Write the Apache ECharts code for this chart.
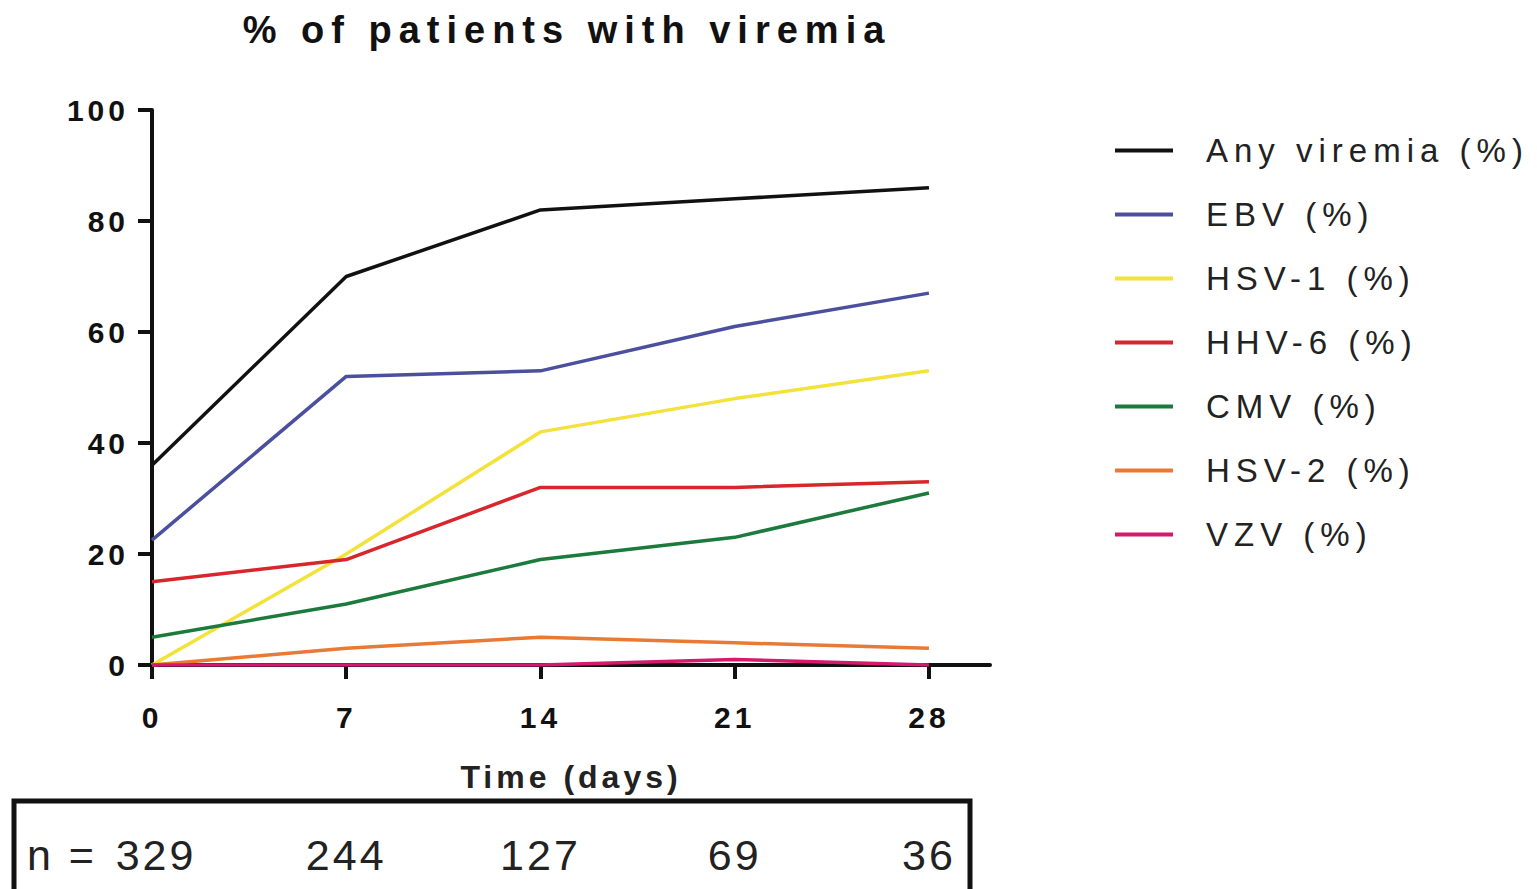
<!DOCTYPE html>
<html><head><meta charset="utf-8">
<script src="https://cdn.jsdelivr.net/npm/echarts@6/dist/echarts.min.js"></script>
<style>
html,body{margin:0;padding:0;background:#fff;}
#chart{width:1537px;height:889px;}
#chart text[style*="38px"]{letter-spacing:7px;}
#chart text[style*="33px"]{letter-spacing:6px;}
#chart text[style*="30px"]{letter-spacing:4px;}
#chart text[style*="32px"]{letter-spacing:4px;}
#chart text[style*="43px"]{letter-spacing:3px;}
</style>
</head><body>
<div id="chart"></div>
<script>
const titleText = '% of patients with viremia';
const xAxisName = 'Time (days)';
const days = [0, 7, 14, 21, 28];
const yTicks = [0, 20, 40, 60, 80, 100];
const seriesNames = ['Any viremia (%)', 'EBV (%)', 'HSV-1 (%)', 'HHV-6 (%)', 'CMV (%)', 'HSV-2 (%)', 'VZV (%)'];
const anyViremia = [36, 70, 82, 84, 86];
const ebv = [22.5, 52, 53, 61, 67];
const hsv1 = [0, 20, 42, 48, 53];
const hhv6 = [15, 19, 32, 32, 33];
const cmv = [5, 11, 19, 23, 31];
const hsv2 = [0, 3, 5, 4, 3];
const vzv = [0, 0, 0, 1, 0];
const nLabel = 'n =';
const nPatients = [329, 244, 127, 69, 36];

const seriesValues = [anyViremia, ebv, hsv1, hhv6, cmv, hsv2, vzv];
const seriesColors = ['#111111', '#4a4f9e', '#f3e23a', '#d8262d', '#1b7a3c', '#e97a35', '#d6196f'];

const chart = echarts.init(document.getElementById('chart'), null, {renderer: 'svg'});
const FONT = '"Liberation Sans", Arial, sans-serif';

const option = {
  animation: false,
  backgroundColor: '#ffffff',
  grid: {left: 152, right: 547, top: 110, bottom: 224, containLabel: false},
  legend: {
    orient: 'vertical',
    left: 1110,
    top: 129,
    itemWidth: 58,
    itemHeight: 4,
    itemGap: 31,
    icon: 'rect',
    data: seriesNames,
    textStyle: {fontFamily: FONT, fontSize: 33, color: '#222', lineHeight: 30, padding: [0, 0, 0, 28]}
  },
  xAxis: {
    type: 'value',
    min: 0,
    max: 30.2,
    name: xAxisName,
    nameLocation: 'middle',
    nameGap: 96,
    nameTextStyle: {fontFamily: FONT, fontSize: 32, fontWeight: 'bold', color: '#222'},
    axisLine: {show: true, onZero: false, lineStyle: {color: '#111', width: 4}},
    axisTick: {show: true, length: 14, customValues: days, lineStyle: {color: '#111', width: 4}},
    axisLabel: {customValues: days, margin: 37, fontFamily: FONT, fontSize: 30, fontWeight: 'bold', color: '#111'},
    splitLine: {show: false}
  },
  yAxis: {
    type: 'value',
    min: 0,
    max: 100,
    interval: 20,
    axisLine: {show: true, onZero: false, lineStyle: {color: '#111', width: 4}},
    axisTick: {show: true, length: 14, lineStyle: {color: '#111', width: 4}},
    axisLabel: {margin: 23, fontFamily: FONT, fontSize: 30, fontWeight: 'bold', color: '#111'},
    splitLine: {show: false}
  },
  series: seriesNames.map((name, k) => ({
    name: name,
    type: 'line',
    showSymbol: false,
    symbol: 'none',
    color: seriesColors[k],
    lineStyle: {width: 3.5, color: seriesColors[k]},
    data: days.map((d, i) => [d, seriesValues[k][i]]),
    z: 3
  })),
  graphic: []
};
chart.setOption(option);

const xs = days.map(d => chart.convertToPixel({xAxisIndex: 0}, d));
const graphics = [
  {type: 'text', x: 567, y: 30, style: {text: titleText, x: 0, y: 0, textAlign: 'center', textVerticalAlign: 'middle', font: 'bold 38px ' + FONT, fill: '#111'}},
  {type: 'rect', shape: {x: 14, y: 801, width: 956, height: 120}, style: {fill: 'none', stroke: '#111', lineWidth: 5}},
  {type: 'text', x: 27, y: 855, style: {text: nLabel, textAlign: 'left', textVerticalAlign: 'middle', font: '43px ' + FONT, fill: '#222'}}
];
nPatients.forEach((n, i) => {
  graphics.push({type: 'text', x: xs[i] + (i === 0 ? 4 : 0), y: 855, style: {text: String(n), textAlign: 'center', textVerticalAlign: 'middle', font: '43px ' + FONT, fill: '#222'}});
});
chart.setOption({graphic: graphics});
</script>
</body></html>
